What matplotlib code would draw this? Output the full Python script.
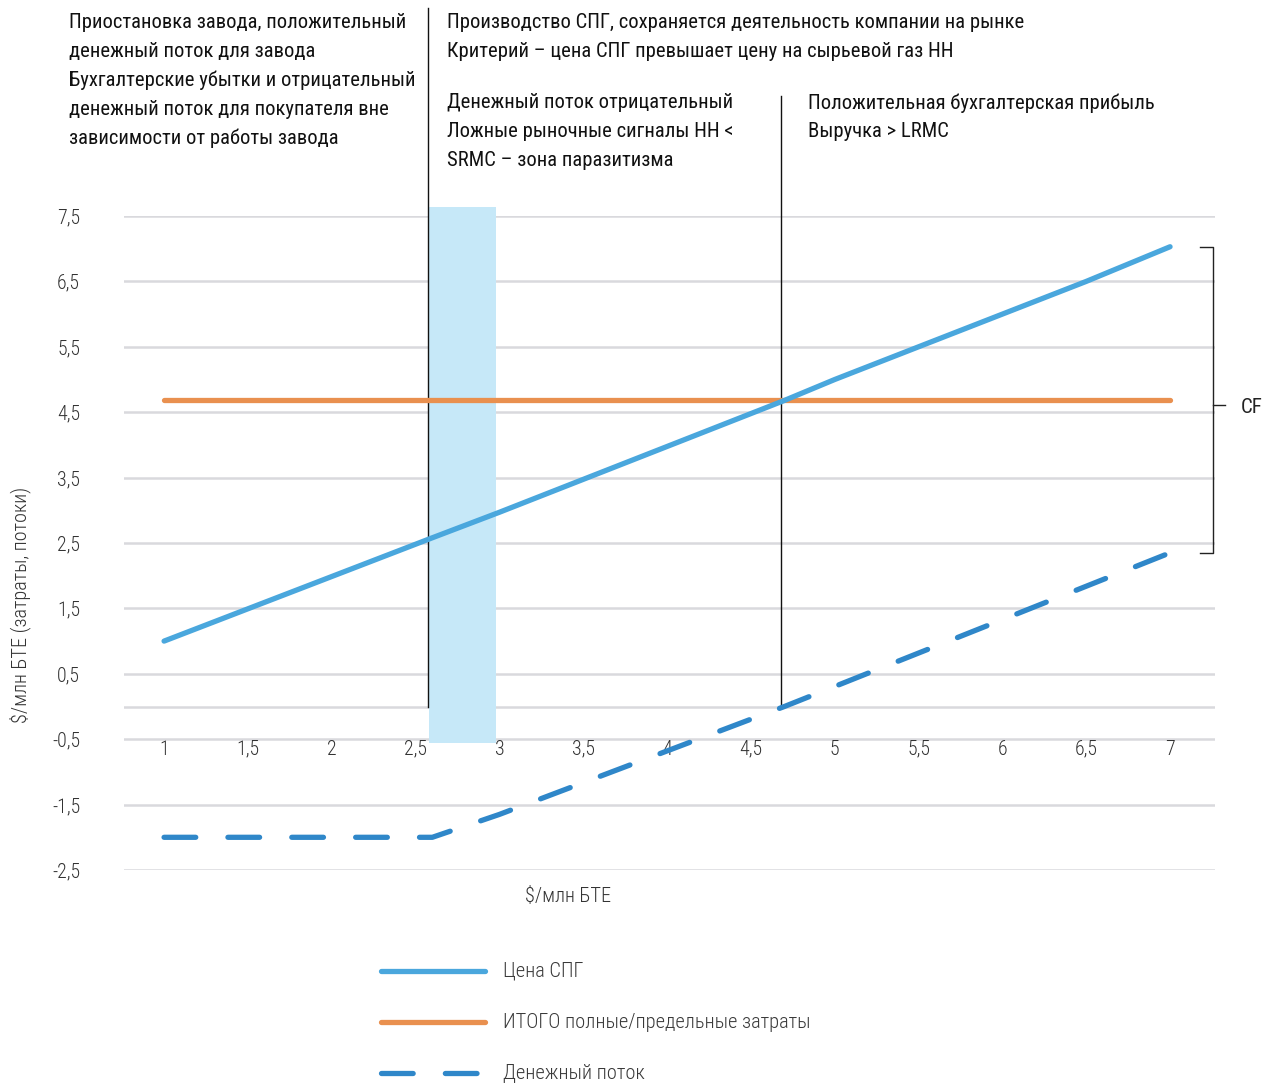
import matplotlib
matplotlib.use("Agg")
import matplotlib.pyplot as plt
from matplotlib.lines import Line2D
from matplotlib.patches import Rectangle

plt.rcParams['font.family'] = ['Roboto Condensed', 'DejaVu Sans']

# data
price_x = [1, 2.6, 3, 4.7, 5, 6.5, 7]
price_y = [1, 2.58, 2.97, 4.68, 5.0, 6.5, 7.03]
cost_x = [1, 7]
cost_y = [4.68, 4.68]
cf_x = [1, 2.6, 3, 4.7, 7]
cf_y = [-2.0, -2.0, -1.65, 0.0, 2.35]
x_ticks = [1, 1.5, 2, 2.5, 3, 3.5, 4, 4.5, 5, 5.5, 6, 6.5, 7]
y_ticks = [7.5, 6.5, 5.5, 4.5, 3.5, 2.5, 1.5, 0.5, -0.5, -1.5, -2.5]
legend_labels = ['Цена СПГ', 'ИТОГО полные/предельные затраты', 'Денежный поток']

W, H = 1264, 1084
fig = plt.figure(figsize=(W / 100, H / 100), dpi=100)


def fx(px):
    return px / W


def fy(py):
    return 1 - py / H


ax = fig.add_axes([fx(124), fy(870), fx(1215) - fx(124), fy(216) - fy(870)])
ax.set_xlim(0.761, 7.268)
ax.set_ylim(-2.5, 7.5)
ax.axis('off')

grid_c = '#d9d9dd'
for v in y_ticks + [0]:
    ax.axhline(v, color=grid_c, lw=1.8, zorder=1)

# shaded zone
ax.add_patch(Rectangle((2.58, -0.56), 0.4, 8.2, facecolor='#c6e8f8',
                       edgecolor='none', zorder=2, clip_on=False))

# vertical separators
ax.plot([2.575, 2.575], [0, 10.68], color='#111111', lw=1.0, zorder=3, clip_on=False)
ax.plot([4.68, 4.68], [0, 9.33], color='#111111', lw=1.0, zorder=3, clip_on=False)

blue = '#4aa7dd'
orange = '#e9904f'
dblue = '#2f87c9'
ax.plot(price_x, price_y, color=blue, lw=3.8, solid_capstyle='round', zorder=5)
ax.plot(cost_x, cost_y, color=orange, lw=3.8, solid_capstyle='round', zorder=4)
ax.plot(cf_x, cf_y, color=dblue, lw=3.8, dash_capstyle='round',
        dashes=(6.0, 6.1), zorder=5, clip_on=False)

tick_c = '#333333'
for v in y_ticks:
    ax.text(0.5, v - 0.03, f'{v:g}'.replace('.', ','), ha='right', va='center',
            fontsize=14.3, color=tick_c, fontweight='light', clip_on=False)
for v in x_ticks:
    ax.text(v, -0.65, f'{v:g}'.replace('.', ','), ha='center', va='center',
            fontsize=14.3, color=tick_c, fontweight='light', clip_on=False)

# CF bracket
bx = 7.256
ax.plot([7.18, bx, bx, 7.18], [7.03, 7.03, 2.35, 2.35], color='#222222', lw=1.0,
        clip_on=False)
ax.plot([bx, 7.325], [4.61, 4.61], color='#222222', lw=1.0, clip_on=False)
fig.text(fx(1241), fy(407), 'CF', fontsize=15, color='#222222', va='center', ha='left')

# axis labels
fig.text(fx(20), fy(605), '$/млн БТЕ (затраты, потоки)', rotation=90,
         fontsize=14.6, color=tick_c, fontweight='light', ha='center', va='center')
fig.text(fx(568), fy(897), '$/млн БТЕ', fontsize=14.6, color=tick_c,
         fontweight='light', ha='center', va='center')

# header notes
txt_c = '#111111'
blocks = [
    (69, 23, ['Приостановка завода, положительный', 'денежный поток для завода',
              'Бухгалтерские убытки и отрицательный',
              'денежный поток для покупателя вне', 'зависимости от работы завода']),
    (447, 23, ['Производство СПГ, сохраняется деятельность компании на рынке',
               'Критерий – цена СПГ превышает цену на сырьевой газ НН']),
    (447, 103, ['Денежный поток отрицательный', 'Ложные рыночные сигналы НН <',
                'SRMC – зона паразитизма']),
    (808, 103, ['Положительная бухгалтерская прибыль', 'Выручка > LRMC']),
]
for x0, y0, lines in blocks:
    for i, s in enumerate(lines):
        fig.text(fx(x0), fy(y0 + i * 28.7), s, fontsize=14.9, color=txt_c,
                 ha='left', va='center')

# legend
styles = [dict(color=blue), dict(color=orange), dict(color=dblue, dashes=(6.0, 6.1))]
for i, (lab, st) in enumerate(zip(legend_labels, styles)):
    yy = fy(971 + i * 51)
    fig.add_artist(Line2D([fx(381), fx(485)], [yy, yy], lw=3.8,
                          solid_capstyle='round', dash_capstyle='round', **st))
    fig.text(fx(503), yy, lab, fontsize=14.8, color='#3a3a3a', fontweight='light',
             ha='left', va='center')

fig.savefig('out.png', dpi=100)
